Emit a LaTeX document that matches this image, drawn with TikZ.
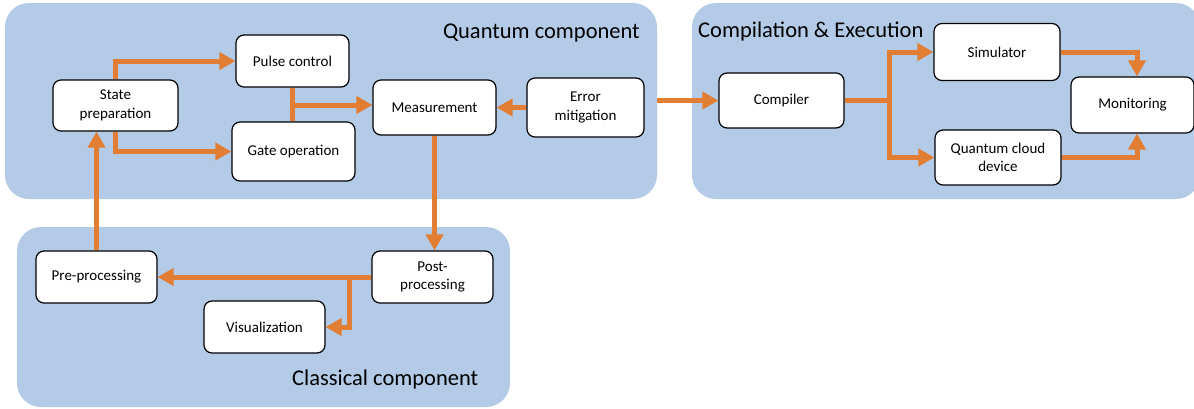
\documentclass[tikz,border=0pt]{standalone}
\usepackage{fontspec}
\setmainfont{Carlito}
\usetikzlibrary{arrows.meta}
\definecolor{panelblue}{HTML}{B4CBE8}
\definecolor{arrorange}{HTML}{E27E33}
\begin{document}
\begin{tikzpicture}[x=1pt,y=-1pt,
  panel/.style={fill=panelblue,draw=none,rounded corners=24pt},
  title/.style={font=\fontsize{22.5}{26}\selectfont,inner sep=0pt},
  box/.style={draw=black,line width=1.2pt,fill=white,rounded corners=8pt,align=center,
    font=\fontsize{15}{18.5}\selectfont,inner sep=2pt},
  flow/.style={draw=arrorange,line width=5pt,-{Triangle[length=16pt,width=17pt]}},
  link/.style={draw=arrorange,line width=5pt}]
\useasboundingbox (0,0) rectangle (1194,408);
% panels
\fill[panel] (5,3) rectangle (657,199);
\fill[panel] (692,3) rectangle (1200,199);
\fill[panel] (17,227) rectangle (510,407);
\node[title,anchor=base east] (tq) at (640,38) {Quantum component};
\node[title,anchor=base west] (tc) at (698,37) {Compilation \& Execution};
\node[title,anchor=base west] (tk) at (292,385) {Classical component};
% nodes
\node[box,minimum width=125pt,minimum height=51pt] (sp) at (115.5,105.5) {State\\preparation};
\node[box,minimum width=113pt,minimum height=52pt] (pc) at (292.5,61) {Pulse control};
\node[box,minimum width=123pt,minimum height=59pt] (go) at (293.5,151.5) {Gate operation};
\node[box,minimum width=123pt,minimum height=55pt] (ms) at (434.5,107.5) {Measurement};
\node[box,minimum width=117pt,minimum height=59pt] (em) at (585.5,107.5) {Error\\mitigation};
\node[box,minimum width=125pt,minimum height=55pt] (cp) at (781.5,100.5) {Compiler};
\node[box,minimum width=126pt,minimum height=57pt] (sim) at (997,52) {Simulator};
\node[box,minimum width=126pt,minimum height=55pt] (qcd) at (998,157.5) {Quantum cloud\\device};
\node[box,minimum width=123pt,minimum height=56pt] (mon) at (1132.5,105) {Monitoring};
\node[box,minimum width=121pt,minimum height=52pt] (pre) at (96.5,277) {Pre-processing};
\node[box,minimum width=121pt,minimum height=52pt] (post) at (432.5,277) {Post-\\processing};
\node[box,minimum width=121pt,minimum height=52pt] (vis) at (264.5,327) {Visualization};
% junction coordinates
\coordinate (j1) at (292.5,105);
\coordinate (j2) at (349,277);
\coordinate (j3) at (889,100.5);
\coordinate (qe) at (657,100.5);
% connectors
\draw[flow] (sp.north) |- (pc.west);
\draw[flow] (sp.south) |- (go.west);
\draw[link] (pc.south) -- (pc.south |- go.north);
\draw[flow] (j1) -- (j1 -| ms.west);
\draw[flow] (em.west) -- (ms.east);
\draw[flow] (ms.south) -- (ms.south |- post.north);
\draw[flow] (post.west) -- (pre.east);
\draw[flow] (j2) |- (vis.east);
\draw[flow] (pre.north) -- (pre.north |- sp.south);
\draw[flow] (qe) -- (cp.west);
\draw[link] (cp.east) -- (j3);
\draw[flow] (j3) |- (sim.west);
\draw[flow] (j3) |- (qcd.west);
\draw[flow] (sim.east) -| ([xshift=4.5pt]mon.north);
\draw[flow] (qcd.east) -| ([xshift=4.5pt]mon.south);
\end{tikzpicture}
\end{document}
